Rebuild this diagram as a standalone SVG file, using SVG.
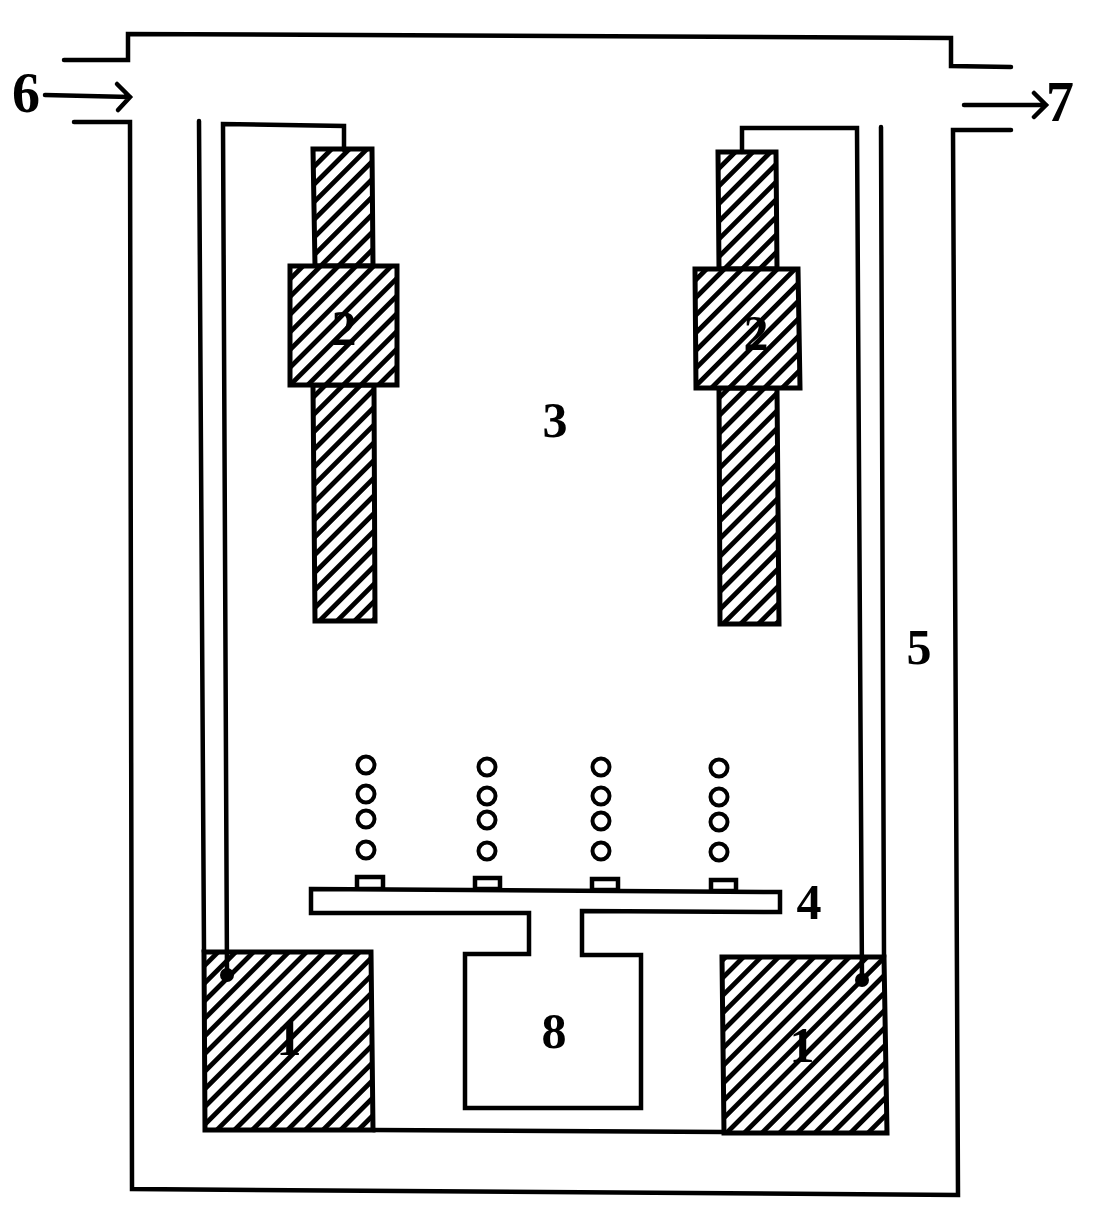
<svg xmlns="http://www.w3.org/2000/svg" width="1098" height="1215" viewBox="0 0 1098 1215">
<style>
.l{fill:none;stroke:#000;stroke-width:4.5;stroke-linejoin:miter;stroke-linecap:round}
.h{fill:url(#hatch);stroke:#000;stroke-width:5;stroke-linejoin:miter}
.b{fill:#fff;stroke:#000;stroke-width:4.5}
.c{fill:none;stroke:#000;stroke-width:4}
text{font-family:"Liberation Serif","Times New Roman",serif;font-weight:bold;fill:#000;text-anchor:middle}
.m{font-size:50px}
</style>
<defs>
<pattern id="hatch" patternUnits="userSpaceOnUse" width="12.5" height="12.5" patternTransform="rotate(45)">
<rect width="12.5" height="12.5" fill="#fff"/>
<rect width="4.8" height="12.5" fill="#000"/>
</pattern>
</defs>
<rect width="1098" height="1215" fill="#fff"/>
<g id="vessel">
<path class="l" d="M64 60L128 60L128 34L951 38L951 66L1011 67"/>
<path class="l" d="M74 122L130 122L132 1189L958 1195L953 130L1011 130"/>
<path class="l" d="M199 121L204 952"/>
<path class="l" d="M881 127L884 957"/>
<path class="l" d="M373 1130L723 1132"/>
</g>
<g id="node-2-left">
<path class="h" d="M313 149L372 149L373 266L315 266Z"/>
<path class="h" d="M313 385L374 385L375 621L315 621Z"/>
<path class="h" d="M290 266L397 266L397 385L290 385Z"/>
<text class="m" x="344" y="345">2</text>
</g>
<g id="node-2-right">
<path class="h" d="M718 152L776 152L777 269L719 269Z"/>
<path class="h" d="M719 388L777 388L779 624L720 624Z"/>
<path class="h" d="M695 269L798 269L800 388L696 388Z"/>
<text class="m" x="756" y="350">2</text>
</g>
<g id="node-1-left">
<path class="h" d="M204 952L371 952L373 1130L205 1130Z"/>
<text class="m" x="289" y="1055">1</text>
</g>
<g id="node-1-right">
<path class="h" d="M722 957L884 957L887 1133L724 1133Z"/>
<text class="m" x="802" y="1062">1</text>
</g>
<g id="node-4-8">
<path class="b" d="M357 889L357 877L383 877L383 889ZM475 889L475 878L500 878L500 889ZM592 890L592 879L618 879L618 890ZM711 891L711 880L736 880L736 891Z"/>
<path class="b" d="M311 889L780 892L780 912L582 911L582 955L641 955L641 1108L465 1108L465 954L529 954L529 913L311 913Z"/>
<text class="m" x="554" y="1048">8</text>
<text class="m" x="809" y="919">4</text>
</g>
<g id="bubbles">
<circle class="c" cx="366" cy="765" r="8.5"/><circle class="c" cx="366" cy="794" r="8.5"/><circle class="c" cx="366" cy="819" r="8.5"/><circle class="c" cx="366" cy="850" r="8.5"/>
<circle class="c" cx="487" cy="767" r="8.5"/><circle class="c" cx="487" cy="796" r="8.5"/><circle class="c" cx="487" cy="820" r="8.5"/><circle class="c" cx="487" cy="851" r="8.5"/>
<circle class="c" cx="601" cy="767" r="8.5"/><circle class="c" cx="601" cy="796" r="8.5"/><circle class="c" cx="601" cy="821" r="8.5"/><circle class="c" cx="601" cy="851" r="8.5"/>
<circle class="c" cx="719" cy="768" r="8.5"/><circle class="c" cx="719" cy="797" r="8.5"/><circle class="c" cx="719" cy="822" r="8.5"/><circle class="c" cx="719" cy="852" r="8.5"/>
</g>
<g id="connectors">
<path class="l" d="M344 150L344 126L223 124L227 975"/>
<circle cx="227" cy="975" r="7" fill="#000"/>
<path class="l" d="M742 152L742 128L857 128L862 980"/>
<circle cx="862" cy="980" r="7" fill="#000"/>
<path class="l" d="M45 95L130 97M117 84L130 97L118 110"/>
<path class="l" d="M964 105L1046 105M1034 93L1046 105L1034 117"/>
</g>
<g id="labels">
<text style="font-size:56px" x="26" y="112">6</text>
<text style="font-size:56px" x="1060" y="121">7</text>
<text class="m" x="555" y="437">3</text>
<text class="m" x="919" y="664">5</text>
</g>
</svg>
